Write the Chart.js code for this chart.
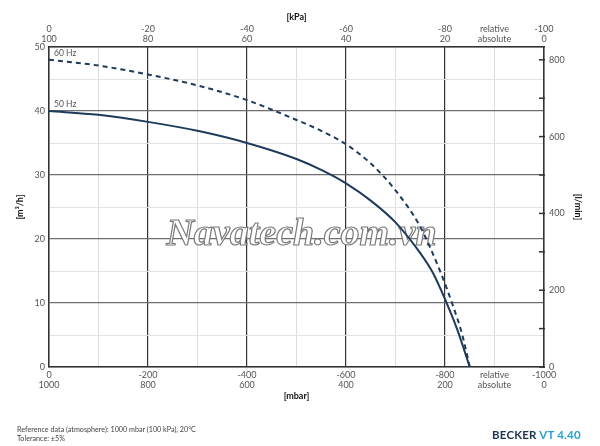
<!DOCTYPE html>
<html>
<head>
<meta charset="utf-8">
<script src="https://cdn.jsdelivr.net/npm/chart.js@4/dist/chart.umd.min.js"></script>
<style>
  body { margin: 0; background: #fff; }
  #wrap { position: relative; width: 600px; height: 446px; }
  #note { position: absolute; left: 17px; top: 425px; font: 7.2px Lato, sans-serif; color: #444; line-height: 9px; }
  #brand { position: absolute; left: 492px; top: 428px; font: bold 11.5px Lato, sans-serif; color: #1b3553; letter-spacing: 0.2px; }
  #brand span { color: #2a9fd0; }
</style>
</head>
<body>
<div id="wrap">
  <canvas id="c" width="600" height="446"></canvas>
  <div id="note">Reference data (atmosphere): 1000 mbar (100 kPa), 20°C<br>Tolerance: ±5%</div>
  <div id="brand">BECKER <span>VT 4.40</span></div>
</div>
<script>
// pressure [mbar, relative] and flow [m³/h]
const pressure50 = [0, -100, -200, -300, -400, -500, -550, -600, -650, -700, -750, -775, -800, -825, -850];
const flow50     = [40.0, 39.4, 38.3, 36.9, 35.0, 32.5, 30.8, 28.7, 26.0, 22.6, 17.8, 14.8, 10.6, 5.8, 0];
const pressure60 = [0, -100, -200, -300, -400, -500, -550, -600, -650, -700, -750, -790, -815, -835, -850];
const flow60     = [48.0, 47.1, 45.7, 44.0, 41.7, 38.6, 36.9, 34.8, 31.8, 27.6, 21.9, 15.0, 9.8, 5.0, 0];
const curveLabels = ['50 Hz', '60 Hz'];

// axis labels
const xTicks        = [0, -200, -400, -600, -800, -900, -1000];
const mbarRelLabels = ['0', '-200', '-400', '-600', '-800', 'relative', '-1000'];
const mbarAbsLabels = ['1000', '800', '600', '400', '200', 'absolute', '0'];
const kpaRelLabels  = ['0', '-20', '-40', '-60', '-80', 'relative', '-100'];
const kpaAbsLabels  = ['100', '80', '60', '40', '20', 'absolute', '0'];
const watermark = 'Navatech.com.vn';

const lineColor = '#1f3b5c';
const tickFont = { family: 'Lato', size: 9, lineHeight: 1.1 };
const titleFont = { family: 'Lato', size: 9, weight: 'bold', lineHeight: 1.2 };

const pairs = (xs, ys) => xs.map((x, i) => ({ x, y: ys[i] }));

const xLabel = (rel, abs) => (v) => {
  const i = xTicks.indexOf(v);
  return i < 0 ? '' : [rel[i], abs[i]];
};

const extras = {
  id: 'extras',
  beforeDatasetsDraw(chart) {
    const { ctx, chartArea } = chart;
    ctx.save();
    ctx.font = 'italic bold 38px "Liberation Serif"';
    ctx.textAlign = 'center';
    ctx.textBaseline = 'alphabetic';
    ctx.fillStyle = '#ffffff';
    ctx.strokeStyle = '#7a7a7a';
    ctx.lineWidth = 1.2;
    const cx = (chartArea.left + chartArea.right) / 2 + 5;
    ctx.fillText(watermark, cx, 245);
    ctx.strokeText(watermark, cx, 245);
    ctx.restore();
  },
  afterDatasetsDraw(chart) {
    const { ctx } = chart;
    const xs = chart.scales.x, ys = chart.scales.y;
    ctx.save();
    ctx.font = '8.5px Lato';
    ctx.fillStyle = '#555';
    ctx.textBaseline = 'middle';
    [[pressure50, flow50], [pressure60, flow60]].forEach(([p, f], i) => {
      ctx.fillText(curveLabels[i], xs.getPixelForValue(p[0]) + 5, ys.getPixelForValue(f[0]) - 7);
    });
    // inside ticks of the l/min axis
    const r = chart.scales.yRight;
    ctx.strokeStyle = '#333';
    ctx.lineWidth = 1.5;
    r.ticks.forEach(t => {
      const y = r.getPixelForValue(t.value);
      ctx.beginPath();
      ctx.moveTo(r.left - 5, y);
      ctx.lineTo(r.left + 1, y);
      ctx.stroke();
    });
    ctx.restore();
  }
};

new Chart(document.getElementById('c'), {
  type: 'line',
  data: {
    datasets: [
      {
        label: curveLabels[0],
        data: pairs(pressure50, flow50),
        borderColor: lineColor,
        borderWidth: 2,
        pointRadius: 0,
        cubicInterpolationMode: 'monotone',
        fill: false,
      },
      {
        label: curveLabels[1],
        data: pairs(pressure60, flow60),
        borderColor: lineColor,
        borderWidth: 2,
        borderDash: [5, 4],
        pointRadius: 0,
        cubicInterpolationMode: 'monotone',
        fill: false,
      },
    ],
  },
  options: {
    responsive: false,
    animation: false,
    plugins: { legend: { display: false }, tooltip: { enabled: false } },
    scales: {
      x: {
        type: 'linear',
        position: 'bottom',
        min: -1000, max: 0, reverse: true,
        afterFit(s) { s.height = 79; },
        ticks: {
          stepSize: 100, autoSkip: false, maxRotation: 0, minRotation: 0,
          padding: 3, color: '#555', font: tickFont,
          callback: xLabel(mbarRelLabels, mbarAbsLabels),
        },
        grid: {
          drawTicks: false,
          color: c => (c.tick.value % 200 === 0 ? '#333' : '#dedede'),
          lineWidth: c => (c.tick.value % 200 === 0 ? 1.2 : 1),
        },
        border: { color: '#333', width: 1.5 },
        title: { display: true, text: '[mbar]', color: '#111', font: titleFont, padding: { bottom: 44.6 } },
      },
      xTop: {
        type: 'linear',
        position: 'top',
        min: -1000, max: 0, reverse: true,
        afterFit(s) { s.height = 47; },
        ticks: {
          stepSize: 100, autoSkip: false, maxRotation: 0, minRotation: 0,
          padding: 3, color: '#555', font: tickFont,
          callback: xLabel(kpaRelLabels, kpaAbsLabels),
        },
        grid: { drawOnChartArea: false, drawTicks: false },
        border: { color: '#333', width: 1.5 },
        title: { display: true, text: '[kPa]', color: '#111', font: titleFont, padding: { top: 11.6 } },
      },
      y: {
        position: 'left',
        min: 0, max: 50,
        afterFit(s) { s.width = 49; },
        ticks: {
          stepSize: 5, padding: 4, color: '#555', font: tickFont,
          callback: v => (v % 10 === 0 ? String(v) : ''),
        },
        grid: {
          drawTicks: false,
          color: c => (c.tick.value % 10 === 0 ? '#6e6e6e' : '#e3e3e3'),
          lineWidth: c => (c.tick.value % 10 === 0 ? 1.2 : 1),
        },
        border: { color: '#333', width: 1.5 },
        title: { display: true, text: '[m³/h]', color: '#111', font: titleFont, padding: { top: 14.6 } },
      },
      yRight: {
        position: 'right',
        min: 0, max: 50 * 1000 / 60,
        afterFit(s) { s.width = 56; },
        ticks: {
          stepSize: 100, includeBounds: false, padding: 5, color: '#555', font: tickFont,
          callback: v => (v % 200 === 0 ? String(v) : ''),
        },
        grid: { drawOnChartArea: false, drawTicks: false },
        border: { color: '#333', width: 1.5 },
        title: { display: true, text: '[l/min]', color: '#111', font: titleFont, padding: { top: 16.6 } },
      },
    },
  },
  plugins: [extras],
});
</script>
</body>
</html>
